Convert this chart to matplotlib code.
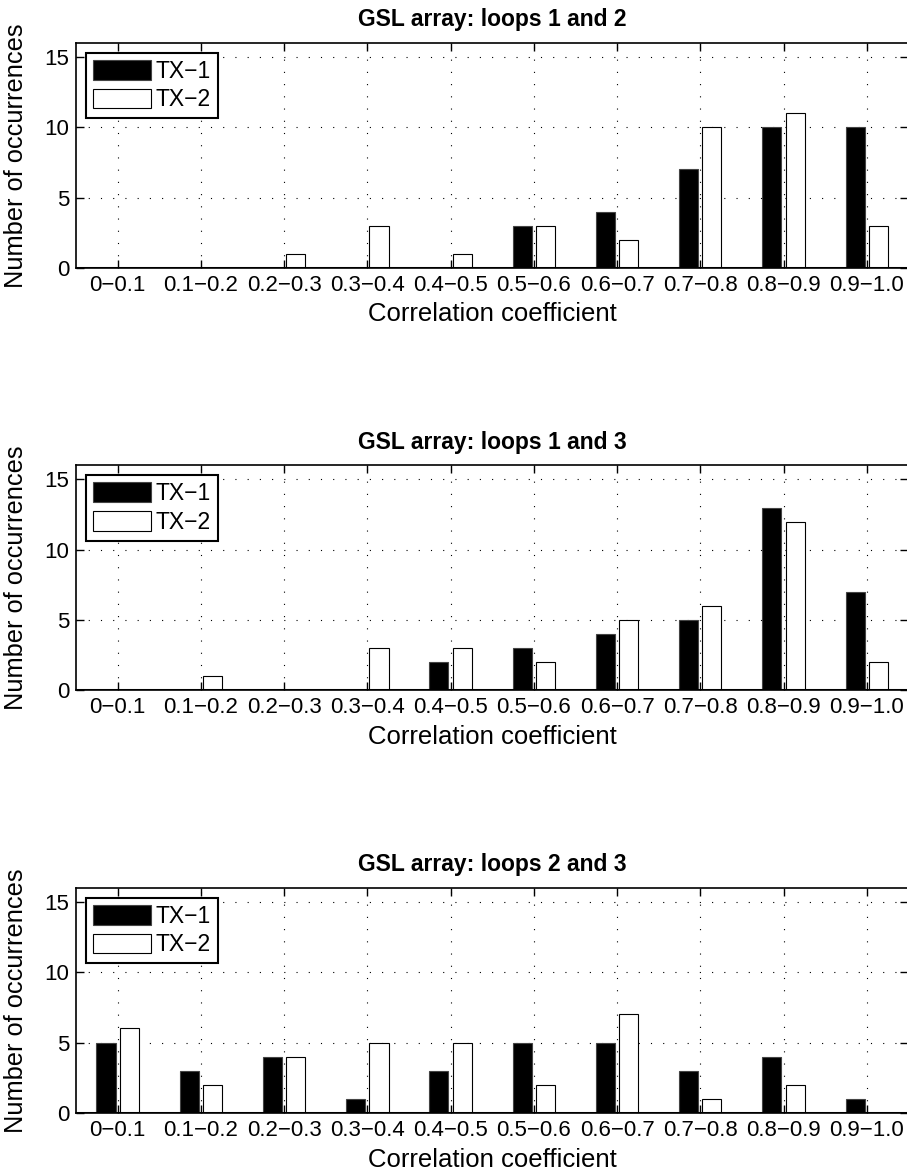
import matplotlib
matplotlib.use("Agg")
import matplotlib.pyplot as plt
import numpy as np

plt.rcParams["font.family"] = ["Liberation Sans", "DejaVu Sans"]

bins = ["0\u22120.1", "0.1\u22120.2", "0.2\u22120.3", "0.3\u22120.4", "0.4\u22120.5",
        "0.5\u22120.6", "0.6\u22120.7", "0.7\u22120.8", "0.8\u22120.9", "0.9\u22121.0"]
series = ["TX\u22121", "TX\u22122"]
titles = ["GSL array: loops 1 and 2", "GSL array: loops 1 and 3", "GSL array: loops 2 and 3"]

tx1_12 = [0, 0, 0, 0, 0, 3, 4, 7, 10, 10]
tx2_12 = [0, 0, 1, 3, 1, 3, 2, 10, 11, 3]
tx1_13 = [0, 0, 0, 0, 2, 3, 4, 5, 13, 7]
tx2_13 = [0, 1, 0, 3, 3, 2, 5, 6, 12, 2]
tx1_23 = [5, 3, 4, 1, 3, 5, 5, 3, 4, 1]
tx2_23 = [6, 2, 4, 5, 5, 2, 7, 1, 2, 0]

panels = [(tx1_12, tx2_12), (tx1_13, tx2_13), (tx1_23, tx2_23)]

fig = plt.figure(figsize=(9.07, 11.72), dpi=100)
bottoms = [0.7716, 0.4113, 0.0506]
x = np.arange(1, len(bins) + 1)
w = 0.23
off = 0.14

for (a, b), title, bot in zip(panels, titles, bottoms):
    ax = fig.add_axes([0.0838, bot, 0.9177, 0.1916])
    ax.bar(x - off, a, width=w, color="black", edgecolor="#444444", linewidth=0.8,
           label=series[0], zorder=3)
    ax.bar(x + off, b, width=w, color="white", edgecolor="black", linewidth=0.8,
           label=series[1], zorder=3)
    ax.axhline(0, color="black", linewidth=2.2, zorder=4)
    ax.set_xlim(0.5, 10.5)
    ax.set_ylim(0, 16)
    ax.set_xticks(x)
    ax.set_xticklabels(bins)
    ax.set_yticks([0, 5, 10, 15])
    ax.grid(True, color="black", linewidth=0.8, linestyle=(0, (1, 10)), zorder=1)
    ax.tick_params(direction="in", length=6, width=1, labelsize=16,
                   top=True, right=True)
    ax.tick_params(axis="x", pad=5)
    ax.tick_params(axis="y", pad=5)
    for s in ax.spines.values():
        s.set_linewidth(1.2)
    ax.set_title(title, fontsize=16.5, fontweight="bold", pad=12)
    ax.set_xlabel("Correlation coefficient", fontsize=18.5)
    ax.set_ylabel("Number of occurrences", fontsize=18.3)
    ax.xaxis.set_label_coords(0.5, -0.155)
    ax.yaxis.set_label_coords(-0.058, 0.5)
    leg = ax.legend(loc="upper left", fontsize=16.5, handlelength=2.55, handleheight=0.95,
                    borderaxespad=0.42, fancybox=False, framealpha=1,
                    edgecolor="black", handletextpad=0.2, borderpad=0.3,
                    labelspacing=0.25)
    leg.get_frame().set_linewidth(1.5)

fig.savefig("out.png", dpi=100)
